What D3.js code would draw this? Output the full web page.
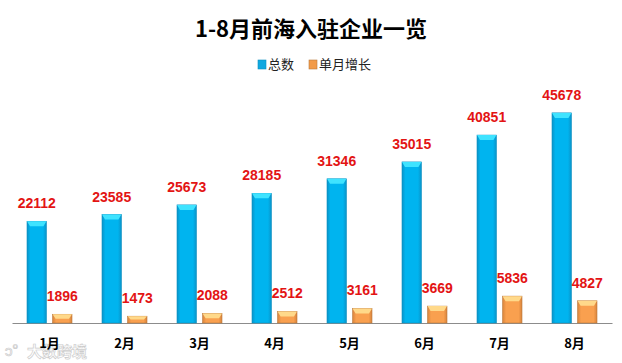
<!DOCTYPE html>
<html>
<head>
<meta charset="utf-8">
<script src="https://cdn.jsdelivr.net/npm/d3@7"></script>
<style>
  body { margin: 0; background: #fff; }
  .lbl { font-family: "Liberation Sans", Arial, sans-serif; font-weight: bold; font-size: 14px; fill: #e31414; }
</style>
</head>
<body>
<div id="barChart"></div>
<script>
const months = ["1月", "2月", "3月", "4月", "5月", "6月", "7月", "8月"];
const totalValues = [22112, 23585, 25673, 28185, 31346, 35015, 40851, 45678];
const growthValues = [1896, 1473, 2088, 2512, 3161, 3669, 5836, 4827];
const seriesNames = ["总数", "单月增长"];

const width = 622, height = 363;
const margin = { top: 93, right: 10, bottom: 40, left: 12 };

const svg = d3.select("#barChart").append("svg")
  .attr("width", width)
  .attr("height", height);

// gradients for the bevelled bars
const defs = svg.append("defs");
function sideGrad(id, edge, mid) {
  const g = defs.append("linearGradient").attr("id", id)
    .attr("x1", "0%").attr("x2", "100%").attr("y1", "0%").attr("y2", "0%");
  g.append("stop").attr("offset", "0%").attr("stop-color", edge);
  g.append("stop").attr("offset", "18%").attr("stop-color", mid);
  g.append("stop").attr("offset", "82%").attr("stop-color", mid);
  g.append("stop").attr("offset", "100%").attr("stop-color", edge);
}
sideGrad("gBlue", "#0a93c8", "#00b4ef");
sideGrad("gOrange", "#d8843c", "#f9a04f");

const colors = {
  "总数": { fill: "url(#gBlue)", top: "#3fe3ff", stroke: "#0b8fc0", key: "#10a8e0" },
  "单月增长": { fill: "url(#gOrange)", top: "#ffd98a", stroke: "#b97a3e", key: "#f29a48" }
};

const x0 = d3.scaleBand()
  .domain(months)
  .range([margin.left, width - margin.right]);

const x1 = d3.scaleBand()
  .domain(seriesNames)
  .range([15, 60])
  .paddingInner(0.24);

const y = d3.scaleLinear()
  .domain([0, 50000])
  .range([height - margin.bottom, margin.top]);

// watermark (drawn first so the axis labels sit on top)
const wm = svg.append("g").style("opacity", 0.85)
  .style("font-family", "'Noto Sans CJK SC', sans-serif")
  .style("fill", "#ffffff")
  .style("stroke", "#c4c4c4")
  .style("stroke-width", 0.7);
wm.append("text").attr("x", 5).attr("y", 356).style("font-size", "15px").text("ↄ°");
wm.append("text").attr("x", 27).attr("y", 357).style("font-size", "15px").style("font-weight", "bold").text("大数跨境");

// title
svg.append("text")
  .attr("x", width / 2)
  .attr("y", 37)
  .attr("text-anchor", "middle")
  .style("font-family", "'Noto Sans CJK SC', sans-serif")
  .style("font-weight", "bold")
  .style("font-size", "22px")
  .style("fill", "#000")
  .text("1-8月前海入驻企业一览");

// legend
const legendX = [258, 309];
seriesNames.forEach((name, i) => {
  const g = svg.append("g").attr("transform", "translate(" + legendX[i] + ",60)");
  g.append("rect").attr("width", 8).attr("height", 9)
    .attr("fill", colors[name].key).attr("stroke", colors[name].stroke).attr("stroke-width", 0.6);
  g.append("text").attr("x", 10).attr("y", 9)
    .style("font-family", "'Noto Sans CJK SC', sans-serif")
    .style("font-size", "13px")
    .style("fill", "#222")
    .text(name);
});

const data = months.map((m, i) => ({ month: m, values: [
  { name: "总数", value: totalValues[i] },
  { name: "单月增长", value: growthValues[i] }
]}));

// axis
const xAxis = svg.append("g")
  .attr("transform", "translate(0," + (height - margin.bottom) + ")")
  .call(d3.axisBottom(x0).tickSize(0).tickSizeOuter(0).tickPadding(16));
xAxis.select(".domain").attr("stroke", "#8c8c8c").attr("stroke-width", 1.2);
xAxis.selectAll("text")
  .style("font-family", "'Noto Sans CJK SC', sans-serif")
  .style("font-weight", "bold")
  .style("font-size", "13px")
  .style("fill", "#000");

// bars
const groups = svg.selectAll(".grp").data(data).enter().append("g")
  .attr("class", "grp")
  .attr("transform", d => "translate(" + x0(d.month) + ",0)");

const bars = groups.selectAll(".bar").data(d => d.values).enter().append("g").attr("class", "bar");

bars.append("rect")
  .attr("x", d => x1(d.name))
  .attr("y", d => y(d.value))
  .attr("width", x1.bandwidth())
  .attr("height", d => y(0) - y(d.value))
  .attr("fill", d => colors[d.name].fill)
  .attr("stroke", d => colors[d.name].stroke)
  .attr("stroke-width", 0.6);

// top bevel
bars.append("path")
  .attr("d", d => {
    const xa = x1(d.name), w = x1.bandwidth(), yt = y(d.value);
    const h = Math.min(5, (y(0) - yt) / 2);
    return "M" + xa + "," + yt + "L" + (xa + w) + "," + yt +
      "L" + (xa + w - 3) + "," + (yt + h) + "L" + (xa + 3) + "," + (yt + h) + "Z";
  })
  .attr("fill", d => colors[d.name].top);

// value labels
bars.append("text")
  .attr("class", "lbl")
  .attr("x", d => x1(d.name) + x1.bandwidth() / 2)
  .attr("y", d => y(d.value) - 13)
  .attr("text-anchor", "middle")
  .text(d => d.value);
</script>
</body>
</html>
